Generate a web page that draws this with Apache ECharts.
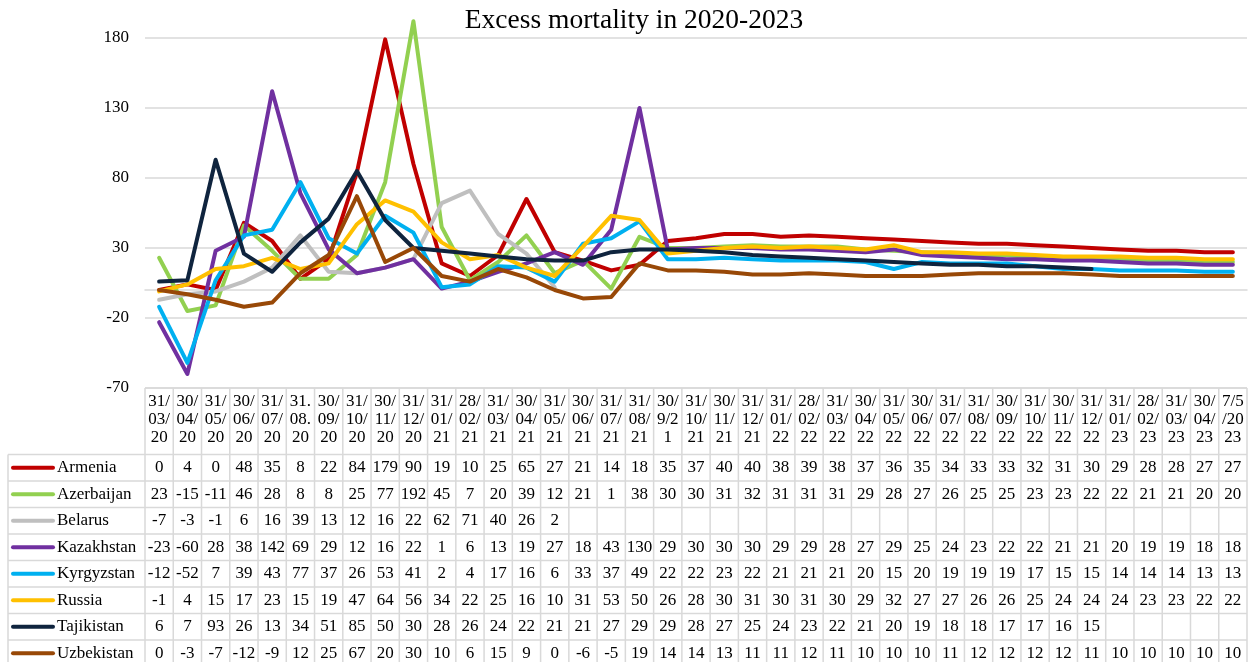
<!DOCTYPE html>
<html>
<head>
<meta charset="utf-8">
<script src="https://cdn.jsdelivr.net/npm/echarts@6/dist/echarts.min.js"></script>
<style>
  html, body { margin: 0; padding: 0; background: #ffffff; }
  #chart { width: 1253px; height: 662px; }
</style>
</head>
<body>
<div id="chart"></div>
<script>
// Month-end reporting dates
const categories = [
  '31/03/20', '30/04/20', '31/05/20', '30/06/20', '31/07/20', '31.08.20', '30/09/20', '31/10/20', '30/11/20', '31/12/20',
  '31/01/21', '28/02/21', '31/03/21', '30/04/21', '31/05/21', '30/06/21', '31/07/21', '31/08/21', '30/9/21', '31/10/21',
  '30/11/21', '31/12/21', '31/01/22', '28/02/22', '31/03/22', '30/04/22', '31/05/22', '30/06/22', '31/07/22', '31/08/22',
  '30/09/22', '31/10/22', '30/11/22', '31/12/22', '31/01/23', '28/02/23', '31/03/23', '30/04/23', '7/5/2023'
];

// Excess mortality per country, %
const armenia = [0, 4, 0, 48, 35, 8, 22, 84, 179, 90, 19, 10, 25, 65, 27, 21, 14, 18, 35, 37,
  40, 40, 38, 39, 38, 37, 36, 35, 34, 33, 33, 32, 31, 30, 29, 28, 28, 27, 27];
const azerbaijan = [23, -15, -11, 46, 28, 8, 8, 25, 77, 192, 45, 7, 20, 39, 12, 21, 1, 38, 30, 30,
  31, 32, 31, 31, 31, 29, 28, 27, 26, 25, 25, 23, 23, 22, 22, 21, 21, 20, 20];
const belarus = [-7, -3, -1, 6, 16, 39, 13, 12, 16, 22, 62, 71, 40, 26, 2, null, null, null, null, null,
  null, null, null, null, null, null, null, null, null, null, null, null, null, null, null, null, null, null, null];
const kazakhstan = [-23, -60, 28, 38, 142, 69, 29, 12, 16, 22, 1, 6, 13, 19, 27, 18, 43, 130, 29, 30,
  30, 30, 29, 29, 28, 27, 29, 25, 24, 23, 22, 22, 21, 21, 20, 19, 19, 18, 18];
const kyrgyzstan = [-12, -52, 7, 39, 43, 77, 37, 26, 53, 41, 2, 4, 17, 16, 6, 33, 37, 49, 22, 22,
  23, 22, 21, 21, 21, 20, 15, 20, 19, 19, 19, 17, 15, 15, 14, 14, 14, 13, 13];
const russia = [-1, 4, 15, 17, 23, 15, 19, 47, 64, 56, 34, 22, 25, 16, 10, 31, 53, 50, 26, 28,
  30, 31, 30, 31, 30, 29, 32, 27, 27, 26, 26, 25, 24, 24, 24, 23, 23, 22, 22];
const tajikistan = [6, 7, 93, 26, 13, 34, 51, 85, 50, 30, 28, 26, 24, 22, 21, 21, 27, 29, 29, 28,
  27, 25, 24, 23, 22, 21, 20, 19, 18, 18, 17, 17, 16, 15, null, null, null, null, null];
const uzbekistan = [0, -3, -7, -12, -9, 12, 25, 67, 20, 30, 10, 6, 15, 9, 0, -6, -5, 19, 14, 14,
  13, 11, 11, 12, 11, 10, 10, 10, 11, 12, 12, 12, 12, 11, 10, 10, 10, 10, 10];

const countryNames = ['Armenia', 'Azerbaijan', 'Belarus', 'Kazakhstan', 'Kyrgyzstan', 'Russia', 'Tajikistan', 'Uzbekistan'];
const countryValues = [armenia, azerbaijan, belarus, kazakhstan, kyrgyzstan, russia, tajikistan, uzbekistan];
const countryColors = ['#C00000', '#92D050', '#BFBFBF', '#7030A0', '#00B0F0', '#FFC000', '#0F243E', '#984807'];

const chartTitle = 'Excess mortality in 2020-2023';
const FONT = "'Liberation Serif', 'Times New Roman', serif";
const BORDER = '#d9d9d9';

const chart = echarts.init(document.getElementById('chart'), null, { renderer: 'canvas' });

const gridLeft = 145, gridRight = 6, gridTop = 38, gridBottom = 274;

chart.setOption({
  animation: false,
  backgroundColor: '#ffffff',
  grid: { left: gridLeft, right: gridRight, top: gridTop, bottom: gridBottom, containLabel: false },
  xAxis: [
    {
      type: 'category',
      data: categories,
      boundaryGap: true,
      position: 'bottom',
      axisLine: { show: false, onZero: false },
      axisTick: { show: false },
      splitLine: { show: false },
      axisLabel: {
        interval: 0,
        margin: 5,
        color: '#000000',
        fontFamily: FONT,
        fontSize: 17,
        lineHeight: 18,
        align: 'center',
        formatter: (s) => s.match(/.{1,3}/g).join('\n')
      }
    },
    {
      // horizontal axis line crossing at zero
      type: 'category',
      data: categories,
      boundaryGap: true,
      axisLine: { show: true, onZero: true, onZeroAxisIndex: 0, lineStyle: { color: BORDER, width: 1.5 } },
      axisTick: { show: false },
      axisLabel: { show: false },
      splitLine: { show: false }
    }
  ],
  yAxis: {
    type: 'value',
    min: -70,
    max: 180,
    interval: 50,
    axisLine: { show: false },
    axisTick: { show: false },
    axisLabel: { color: '#000000', fontFamily: FONT, fontSize: 17, margin: 16 },
    splitLine: { show: true, lineStyle: { color: BORDER, width: 1.5 } }
  },
  series: countryNames.map((name, i) => ({
    name: name,
    type: 'line',
    data: countryValues[i],
    xAxisIndex: 0,
    clip: false,
    showSymbol: false,
    symbol: 'none',
    lineStyle: { color: countryColors[i], width: 4, cap: 'round', join: 'round' },
    itemStyle: { color: countryColors[i] },
    emphasis: { disabled: true }
  }))
});

// Data table beneath the plot, aligned to the category columns
function buildTable() {
  const xs = categories.map((_, i) => chart.convertToPixel({ xAxisIndex: 0 }, i));
  const colW = xs[1] - xs[0];
  const leftEdge = xs[0] - colW / 2;
  const rightEdge = xs[xs.length - 1] + colW / 2;
  const tableTop = gridTop + (662 - gridTop - gridBottom);
  const headerBottom = 454.5;
  const rowH = 26.5;
  const tableLeft = 8;
  const tableBottom = headerBottom + rowH * countryNames.length;
  const els = [];

  els.push({
    type: 'text', x: 634, y: 21, silent: true, z: 10,
    style: { text: chartTitle, font: '27.5px ' + FONT, fill: '#000000', textAlign: 'center', textVerticalAlign: 'middle' }
  });

  const line = (x1, y1, x2, y2) => els.push({
    type: 'line', silent: true, z: 1,
    shape: { x1, y1, x2, y2 },
    style: { stroke: BORDER, lineWidth: 1.5 }
  });

  // vertical borders
  for (let i = 0; i <= categories.length; i++) {
    const x = leftEdge + i * colW;
    line(x, tableTop, x, tableBottom);
  }
  line(tableLeft, headerBottom, tableLeft, tableBottom);
  // horizontal borders
  line(leftEdge, tableTop, rightEdge, tableTop);
  for (let r = 0; r <= countryNames.length; r++) {
    const y = headerBottom + r * rowH;
    line(tableLeft, y, rightEdge, y);
  }

  countryNames.forEach((name, r) => {
    const cy = headerBottom + r * rowH + rowH / 2;
    els.push({
      type: 'line', silent: true, z: 2,
      shape: { x1: 13, y1: cy, x2: 53, y2: cy },
      style: { stroke: countryColors[r], lineWidth: 4, lineCap: 'round' }
    });
    els.push({
      type: 'text', silent: true, z: 2, x: 57, y: cy,
      style: { text: name, font: '17px ' + FONT, fill: '#000000', textAlign: 'left', textVerticalAlign: 'middle' }
    });
    countryValues[r].forEach((v, c) => {
      if (v === null || v === undefined) return;
      els.push({
        type: 'text', silent: true, z: 2, x: xs[c], y: cy,
        style: { text: String(v), font: '17px ' + FONT, fill: '#000000', textAlign: 'center', textVerticalAlign: 'middle' }
      });
    });
  });

  chart.setOption({ graphic: { elements: els } });
}

buildTable();
</script>
</body>
</html>
